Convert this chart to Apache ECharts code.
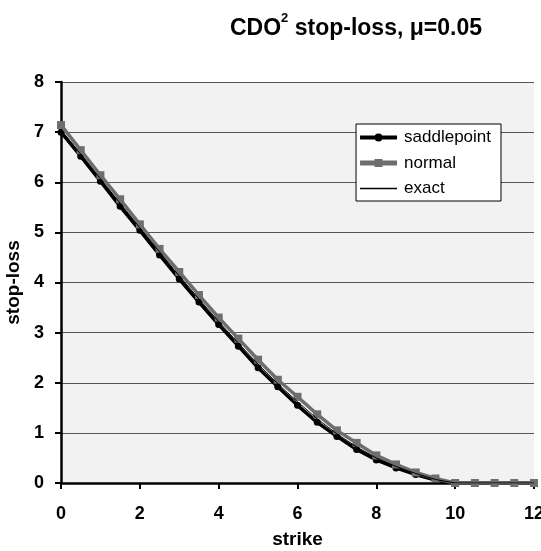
<!DOCTYPE html>
<html>
<head>
<meta charset="utf-8">
<script src="https://cdn.jsdelivr.net/npm/echarts@6/dist/echarts.min.js"></script>
<style>
html,body{margin:0;padding:0;background:#fff;}
#chart{width:541px;height:551px;}
</style>
</head>
<body>
<div id="chart"></div>
<script>
var strikes = [0,0.5,1,1.5,2,2.5,3,3.5,4,4.5,5,5.5,6,6.5,7,7.5,8,8.5,9,9.5,10,10.5,11,11.5,12];
var saddlepoint = [7.00,6.52,6.02,5.52,5.04,4.55,4.07,3.61,3.16,2.73,2.30,1.92,1.55,1.21,0.93,0.67,0.46,0.30,0.17,0.06,0,0,0,0,0];
var normal = [7.14,6.64,6.14,5.66,5.16,4.67,4.21,3.75,3.30,2.88,2.46,2.06,1.72,1.37,1.05,0.80,0.55,0.37,0.21,0.09,0,0,0,0,0];
var exact = [7.04,6.56,6.07,5.58,5.09,4.61,4.13,3.67,3.22,2.79,2.37,1.98,1.62,1.28,0.98,0.72,0.50,0.33,0.19,0.07,0,0,0,0,0];
var yTicks = [0,1,2,3,4,5,6,7,8];
var xTicks = [0,2,4,6,8,10,12];
var seriesNames = ['saddlepoint','normal','exact'];

function pairs(vals){ return strikes.map(function(s,i){ return [s, vals[i]]; }); }

var FONT = '"Liberation Sans", Arial, sans-serif';
var GRAY = '#6e6e6e';
var iconSaddle = 'path://M0,2L37,2L37,6L0,6Z M14.5,4A4,4 0 1,1 22.5,4A4,4 0 1,1 14.5,4Z';
var iconNormal = 'path://M0,1.5L37,1.5L37,6.5L0,6.5Z M14.5,0L22.5,0L22.5,8L14.5,8Z';
var iconExact = 'path://M0,0L37,0L37,1.3L0,1.3Z';

var chart = echarts.init(document.getElementById('chart'), null, {renderer:'canvas'});
chart.setOption({
  animation:false,
  backgroundColor:'#ffffff',
  title:{
    text:'{a|CDO}{s|2}{a| stop-loss, μ=0.05}',
    left:351, top:7, textAlign:'center',
    textStyle:{
      rich:{
        a:{fontFamily:FONT,fontWeight:'bold',fontSize:23,color:'#000',verticalAlign:'bottom',lineHeight:28},
        s:{fontFamily:FONT,fontWeight:'bold',fontSize:13,color:'#000',verticalAlign:'top',lineHeight:28,padding:[0,0,13,0]}
      }
    }
  },
  legend:{
    right:40, top:124, orient:'vertical', itemGap:8.5,
    backgroundColor:'#ffffff', borderColor:'#000', borderWidth:1, borderRadius:0,
    padding:[5,10,4,4], itemWidth:37, itemHeight:8, symbolKeepAspect:true,
    textStyle:{fontFamily:FONT,fontSize:17,color:'#000',padding:[0,0,0,2]},
    data:[
      {name:seriesNames[0], icon:iconSaddle},
      {name:seriesNames[1], icon:iconNormal},
      {name:seriesNames[2], icon:iconExact}
    ]
  },
  grid:{left:61,right:7,top:82,bottom:68,show:true,backgroundColor:'#f2f2f2',borderWidth:0,
        containLabel:false,outerBoundsMode:'none'},
  xAxis:{
    type:'value', min:0, max:12, interval:2,
    name:'strike', nameLocation:'middle', nameGap:57,
    nameTextStyle:{fontFamily:FONT,fontWeight:'bold',fontSize:19,color:'#000',verticalAlign:'middle'},
    axisLine:{lineStyle:{color:'#000',width:2.5}},
    axisTick:{show:true,length:6,lineStyle:{color:'#000',width:2}},
    axisLabel:{fontFamily:FONT,fontWeight:'bold',fontSize:18,color:'#000',margin:22,
      formatter:function(v){ return xTicks.indexOf(v)>=0 ? String(v) : ''; }},
    splitLine:{show:false}
  },
  yAxis:{
    type:'value', min:0, max:8, interval:1,
    name:'stop-loss', nameLocation:'middle', nameGap:33, nameRotate:90,
    nameTextStyle:{fontFamily:FONT,fontWeight:'bold',fontSize:19,color:'#000'},
    axisLine:{show:true,lineStyle:{color:'#000',width:2.5}},
    axisTick:{show:true,length:6,lineStyle:{color:'#000',width:2}},
    axisLabel:{fontFamily:FONT,fontWeight:'bold',fontSize:18,color:'#000',margin:17,
      formatter:function(v){ return yTicks.indexOf(v)>=0 ? String(v) : ''; }},
    splitLine:{show:true,lineStyle:{color:'#555',width:1}}
  },
  series:[
    {name:seriesNames[0],type:'line',data:pairs(saddlepoint),symbol:'circle',symbolSize:7,
     lineStyle:{color:'#000',width:3.5},itemStyle:{color:'#000'},z:2},
    {name:seriesNames[1],type:'line',data:pairs(normal),symbol:'rect',symbolSize:8,
     lineStyle:{color:GRAY,width:3.5},itemStyle:{color:GRAY},z:3},
    {name:seriesNames[2],type:'line',data:pairs(exact),symbol:'none',
     lineStyle:{color:'#000',width:1},itemStyle:{color:'#000'},z:4}
  ]
});
</script>
</body>
</html>
